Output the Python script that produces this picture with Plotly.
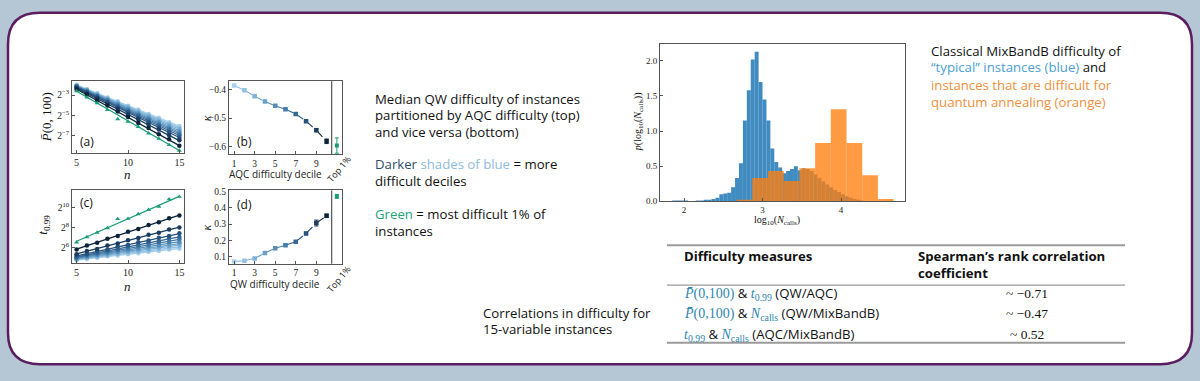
import plotly.graph_objects as go

W, H = 1200, 381
def fx(p): return p / W
def fy(p): return 1 - p / H

# ---------------- data ----------------
n_vals = [5, 6, 7, 8, 9, 10, 11, 12, 13, 14, 15]

# panel (a): log2 of median P(0,100) per AQC decile (1..10) + top 1% (last)
a_fit_start = [-2.00, -2.03, -2.06, -2.09, -2.12, -2.15, -2.19, -2.24, -2.32, -2.42, -2.62]
a_fit_end = [-6.05, -6.20, -6.35, -6.50, -6.65, -6.80, -6.97, -7.17, -7.47, -7.97, -8.45]
a_points = [
    [-1.98, -2.43, -2.80, -3.23, -3.61, -4.05, -4.41, -4.86, -5.22, -5.67, -6.03],
    [-2.04, -2.44, -2.88, -3.27, -3.71, -4.09, -4.55, -4.93, -5.38, -5.76, -6.22],
    [-2.05, -2.51, -2.90, -3.36, -3.75, -4.22, -4.61, -5.08, -5.47, -5.94, -6.33],
    [-2.10, -2.52, -2.99, -3.40, -3.87, -4.28, -4.75, -5.16, -5.64, -6.04, -6.52],
    [-2.11, -2.59, -3.01, -3.49, -3.91, -4.40, -4.82, -5.31, -5.72, -6.22, -6.63],
    [-2.16, -2.60, -3.10, -3.52, -4.03, -4.45, -4.96, -5.38, -5.89, -6.31, -6.82],
    [-2.18, -2.69, -3.12, -3.64, -4.08, -4.60, -5.03, -5.55, -5.99, -6.50, -6.95],
    [-2.25, -2.71, -3.24, -3.69, -4.22, -4.68, -5.21, -5.66, -6.19, -6.65, -7.19],
    [-2.30, -2.85, -3.31, -3.86, -4.33, -4.90, -5.37, -5.92, -6.39, -6.95, -7.45],
    [-2.44, -2.94, -3.53, -4.03, -4.62, -5.15, -5.73, -6.23, -6.84, -7.35, -7.99],
    [-2.60, -3.22, -3.78, -4.45, -5.35, -5.60, -6.12, -6.75, -7.28, -7.90, -8.45],
]

# panel (c): log2 of t_0.99 per QW decile (1..10) + top 1% (last)
c_fit_start = [4.70, 4.75, 4.80, 4.85, 4.90, 4.95, 5.02, 5.12, 5.32, 5.80, 6.60]
c_fit_end = [5.87, 6.03, 6.20, 6.36, 6.56, 6.78, 7.05, 7.37, 8.03, 9.24, 11.13]
c_points = [
    [4.66, 4.84, 4.92, 5.08, 5.15, 5.30, 5.38, 5.54, 5.61, 5.77, 5.85],
    [4.78, 4.86, 5.03, 5.11, 5.29, 5.36, 5.55, 5.62, 5.80, 5.88, 6.05],
    [4.76, 4.97, 5.05, 5.25, 5.33, 5.53, 5.61, 5.81, 5.89, 6.09, 6.17],
    [4.89, 4.98, 5.18, 5.27, 5.48, 5.58, 5.79, 5.88, 6.09, 6.18, 6.39],
    [4.86, 5.10, 5.20, 5.43, 5.53, 5.76, 5.87, 6.09, 6.20, 6.42, 6.53],
    [4.99, 5.10, 5.35, 5.47, 5.71, 5.84, 6.08, 6.20, 6.44, 6.57, 6.81],
    [4.98, 5.26, 5.40, 5.66, 5.80, 6.07, 6.21, 6.47, 6.61, 6.88, 7.02],
    [5.16, 5.32, 5.61, 5.77, 6.06, 6.22, 6.51, 6.67, 6.96, 7.12, 7.40],
    [5.28, 5.62, 5.83, 6.16, 6.37, 6.71, 6.92, 7.25, 7.46, 7.79, 8.00],
    [5.76, 6.17, 6.45, 6.86, 7.14, 7.55, 7.83, 8.24, 8.52, 8.93, 9.21],
    [6.50, 7.02, 7.48, 7.93, 8.85, 8.88, 9.35, 9.78, 10.10, 10.85, 11.10],
]

# panel (b): kappa vs AQC difficulty decile
deciles = [1, 2, 3, 4, 5, 6, 7, 8, 9, 10]
b_kappa = [-0.385, -0.402, -0.423, -0.442, -0.457, -0.469, -0.486, -0.511, -0.543, -0.582]
b_err = [0.003, 0.003, 0.003, 0.003, 0.003, 0.003, 0.004, 0.004, 0.005, 0.008]
b_top = [-0.597]
b_top_err = [0.027]

# panel (d): kappa vs QW difficulty decile
d_kappa = [0.072, 0.076, 0.090, 0.124, 0.153, 0.171, 0.193, 0.243, 0.307, 0.351]
d_err = [0.003, 0.003, 0.004, 0.004, 0.004, 0.004, 0.005, 0.008, 0.018, 0.010]
d_top = [0.470]
d_top_err = [0.012]
top_pos = [11]

# histogram of log10(N_calls)
blue_centers = [1.875, 1.925, 1.975, 2.025, 2.075, 2.125, 2.175, 2.225, 2.275, 2.325,
                2.375, 2.425, 2.475, 2.525, 2.575, 2.625, 2.675, 2.725, 2.775, 2.825,
                2.875, 2.925, 2.975, 3.025, 3.075, 3.125, 3.175, 3.225, 3.275, 3.325,
                3.375, 3.425, 3.475, 3.525, 3.575, 3.625, 3.675, 3.725, 3.775, 3.825,
                3.875, 3.925, 3.975, 4.025, 4.075, 4.125, 4.175, 4.225, 4.275]
blue_heights = [0.01, 0.01, 0.01, 0.01, 0.00, 0.00, 0.01, 0.01, 0.02, 0.02,
                0.03, 0.05, 0.10, 0.11, 0.12, 0.20, 0.33, 0.54, 1.15, 1.58,
                2.02, 2.13, 1.70, 1.45, 1.15, 0.75, 0.56, 0.48, 0.40, 0.43,
                0.46, 0.50, 0.44, 0.47, 0.46, 0.43, 0.38, 0.33, 0.28, 0.24,
                0.20, 0.16, 0.13, 0.10, 0.07, 0.05, 0.03, 0.02, 0.01]
orange_edges = [2.67, 2.87, 3.07, 3.27, 3.47, 3.67, 3.87, 4.07, 4.27, 4.47, 4.67]
orange_heights = [0.02, 0.33, 0.43, 0.29, 0.47, 0.83, 1.31, 0.83, 0.37, 0.03]

decile_colors = ['#a9d1ec', '#94c2e2', '#7fb2d6', '#6aa1c9', '#578fba',
                 '#457caa', '#356896', '#27537e', '#193c5f', '#0c233c']
green = '#1b9e77'

SERIF = 'Liberation Serif'
SANS = 'Open Sans'
TXT = 13.2

fig = go.Figure()

# ---------------- panels (a) and (c) ----------------
for xa, ya, fs, fe, pts in [('x', 'y', a_fit_start, a_fit_end, a_points),
                            ('x3', 'y3', c_fit_start, c_fit_end, c_points)]:
    for i in range(11):
        col = decile_colors[i] if i < 10 else green
        sym = 'circle' if i < 10 else 'triangle-up'
        fig.add_trace(go.Scatter(x=[n_vals[0], n_vals[-1]], y=[fs[i], fe[i]], mode='lines',
                                 line=dict(color=col, width=1.3), xaxis=xa, yaxis=ya,
                                 showlegend=False, hoverinfo='skip'))
        fig.add_trace(go.Scatter(x=n_vals, y=pts[i], mode='markers',
                                 marker=dict(color=col, size=4.5, symbol=sym), xaxis=xa, yaxis=ya,
                                 showlegend=False))

# ---------------- panels (b) and (d) ----------------
for xa, ya, kap, err, top, terr in [('x2', 'y2', b_kappa, b_err, b_top, b_top_err),
                                    ('x4', 'y4', d_kappa, d_err, d_top, d_top_err)]:
    for i in range(len(deciles) - 1):
        fig.add_trace(go.Scatter(x=deciles[i:i + 2], y=kap[i:i + 2], mode='lines',
                                 line=dict(color=decile_colors[i + 1], width=1.1, dash='dash'),
                                 xaxis=xa, yaxis=ya, showlegend=False, hoverinfo='skip'))
    for i in range(len(deciles)):
        fig.add_trace(go.Scatter(x=[deciles[i]], y=[kap[i]], mode='markers',
                                 marker=dict(color=decile_colors[i], size=4.5, symbol='square'),
                                 error_y=dict(type='data', array=[err[i]], color=decile_colors[i],
                                              thickness=1, width=2),
                                 xaxis=xa, yaxis=ya, showlegend=False))
    fig.add_trace(go.Scatter(x=top_pos, y=top, mode='markers',
                             marker=dict(color=green, size=4, symbol='square'),
                             error_y=dict(type='data', array=terr, color=green, thickness=1, width=2),
                             xaxis=xa, yaxis=ya, showlegend=False))

# ---------------- histogram ----------------
fig.add_trace(go.Bar(x=blue_centers, y=blue_heights, width=[0.05] * len(blue_centers),
                     marker=dict(color='rgba(31,119,180,0.85)', line=dict(width=0)),
                     xaxis='x5', yaxis='y5', showlegend=False))
o_centers = [(orange_edges[i] + orange_edges[i + 1]) / 2 for i in range(len(orange_heights))]
o_widths = [orange_edges[i + 1] - orange_edges[i] for i in range(len(orange_heights))]
fig.add_trace(go.Bar(x=o_centers, y=orange_heights, width=o_widths,
                     marker=dict(color='rgba(255,127,14,0.78)', line=dict(width=0)),
                     xaxis='x5', yaxis='y5', showlegend=False))

# ---------------- axes ----------------
def dom_x(a, b): return [fx(a), fx(b)]
def dom_y(top, bot): return [fy(bot), fy(top)]

tickfont = dict(family=SERIF, size=9.5, color='#222')
common = dict(showline=True, linecolor='#555', linewidth=1, mirror=True, ticks='inside',
              ticklen=3, tickcolor='#555', showgrid=False, zeroline=False, tickfont=tickfont)

fig.update_layout(
    xaxis=dict(domain=dom_x(72, 184), range=[4.55, 15.45], tickvals=[5, 10, 15], anchor='y', **common),
    yaxis=dict(domain=dom_y(79, 153), range=[-8.73, -1.62], tickvals=[-3, -5, -7],
               ticktext=['2<sup>−3</sup>', '2<sup>−5</sup>', '2<sup>−7</sup>'], anchor='x', **common),
    xaxis2=dict(domain=dom_x(229, 342), range=[0.5, 11.5], tickvals=[1, 3, 5, 7, 9], anchor='y2', **common),
    yaxis2=dict(domain=dom_y(79, 154), range=[-0.628, -0.37], tickvals=[-0.4, -0.5, -0.6],
                ticktext=['−0.4', '−0.5', '−0.6'], anchor='x2', **common),
    xaxis3=dict(domain=dom_x(72, 184), range=[4.55, 15.45], tickvals=[5, 10, 15], anchor='y3', **common),
    yaxis3=dict(domain=dom_y(191, 265), range=[4.43, 11.73], tickvals=[6, 8, 10],
                ticktext=['2<sup>6</sup>', '2<sup>8</sup>', '2<sup>10</sup>'], anchor='x3', **common),
    xaxis4=dict(domain=dom_x(229, 342), range=[0.5, 11.5], tickvals=[1, 3, 5, 7, 9], anchor='y4', **common),
    yaxis4=dict(domain=dom_y(191, 266), range=[0.058, 0.506], tickvals=[0.1, 0.2, 0.3, 0.4, 0.5],
                ticktext=['0.1', '0.2', '0.3', '0.4', '0.5'], anchor='x4', **common),
    xaxis5=dict(domain=dom_x(660, 905), range=[1.694, 4.815], tickvals=[2, 3, 4], anchor='y5', **common),
    yaxis5=dict(domain=dom_y(41, 202), range=[0, 2.24], tickvals=[0, 0.5, 1.0, 1.5, 2.0],
                ticktext=['0.0', '0.5', '1.0', '1.5', '2.0'], anchor='x5', **common),
)
for ax in ['xaxis5', 'yaxis5']:
    fig.layout[ax].tickfont = dict(family=SERIF, size=9, color='#222')
for ax in ['xaxis', 'xaxis3']:
    fig.layout[ax].tickfont = dict(family=SERIF, size=10, color='#222')

# ---------------- shapes ----------------
x0, x1, y0, y1, r = 8, 1192, 9, 369, 32
def P(x, y): return f'{fx(x):.5f},{fy(y):.5f}'
path = (f'M {P(x0 + r, y0)} L {P(x1 - r, y0)} Q {P(x1, y0)} {P(x1, y0 + r)} '
        f'L {P(x1, y1 - r)} Q {P(x1, y1)} {P(x1 - r, y1)} L {P(x0 + r, y1)} '
        f'Q {P(x0, y1)} {P(x0, y1 - r)} L {P(x0, y0 + r)} Q {P(x0, y0)} {P(x0 + r, y0)} Z')
shapes = [dict(type='path', path=path, xref='paper', yref='paper', fillcolor='white',
               line=dict(color='#5b1d60', width=2.5), layer='below')]
for xa, ya in [('x2', 'y2 domain'), ('x4', 'y4 domain')]:
    shapes.append(dict(type='line', xref=xa, yref=ya, x0=10.5, x1=10.5, y0=0, y1=1,
                       line=dict(color='#333', width=1)))
for yy, w in [(247, 2), (288, 1.2), (347, 2)]:
    shapes.append(dict(type='line', xref='paper', yref='paper', x0=fx(667), x1=fx(1125),
                       y0=fy(yy), y1=fy(yy), line=dict(color='#9a9a9a', width=w)))
fig.update_layout(shapes=shapes)

# ---------------- annotations ----------------
ann = []
def txt(x, y, text, size=TXT, color='#111', family=SANS, xanchor='left', angle=0, yanchor='middle'):
    ann.append(dict(x=fx(x), y=fy(y), xref='paper', yref='paper', text=text, showarrow=False,
                    xanchor=xanchor, yanchor=yanchor, align='left', textangle=angle,
                    font=dict(family=family, size=size, color=color)))

# panel labels
txt(78, 141, '(a)', 12, '#111', SANS)
txt(235, 141, '(b)', 12, '#111', SANS)
txt(78, 203, '(c)', 12, '#111', SANS)
txt(235, 205, '(d)', 12, '#111', SANS)
# axis titles
txt(46, 116, '<i>P̄</i>(0, 100)', 13, '#111', SERIF, 'center', -90)
txt(127, 175, '<i>n</i>', 13, '#111', SERIF, 'center')
txt(44, 226, '<i>t</i><sub>0.99</sub>', 13, '#111', SERIF, 'center', -90)
txt(127, 289, '<i>n</i>', 13, '#111', SERIF, 'center')
txt(207, 117, '<i>κ</i>', 12, '#111', SERIF, 'center', -90)
txt(207, 229, '<i>κ</i>', 12, '#111', SERIF, 'center', -90)
txt(275, 174, 'AQC difficulty decile', 10, '#222', SANS, 'center')
txt(275, 287, 'QW difficulty decile', 10, '#222', SANS, 'center')
txt(339, 168, 'Top 1%', 9, '#222', SANS, 'center', -50)
txt(339, 281, 'Top 1%', 9, '#222', SANS, 'center', -50)
txt(638, 121, '<i>p</i>(log<sub>10</sub>(<i>N</i><sub>calls</sub>))', 10, '#111', SERIF, 'center', -90)
txt(777, 222, 'log<sub>10</sub>(<i>N</i><sub>calls</sub>)', 10, '#111', SERIF, 'center')

# explanatory texts
txt(373, 97, 'Median QW difficulty of instances')
txt(373, 114, 'partitioned by AQC difficulty (top)')
txt(373, 131, 'and vice versa (bottom)')
txt(373, 164, "<span style='color:#2f4e68'>Darker</span> <span style='color:#8fbbdc'>shades of blue</span> = more")
txt(373, 181, 'difficult deciles')
txt(373, 215, "<span style='color:#22a27a'>Green</span> = most difficult 1% of")
txt(373, 232, 'instances')

txt(929, 48, 'Classical MixBandB difficulty of')
txt(929, 65, "<span style='color:#4a9fd4'>“typical” instances (blue)</span> and")
txt(929, 83, 'instances that are difficult for', TXT, '#f0903c')
txt(929, 100, 'quantum annealing (orange)', TXT, '#f0903c')

txt(481, 316, 'Correlations in difficulty for')
txt(481, 333, '15-variable instances')

# table
TEAL = '#2f86b0'
txt(682, 258, '<b>Difficulty measures</b>')
txt(916, 258, '<b>Spearman’s rank correlation</b>')
txt(916, 276, '<b>coefficient</b>')
Pm = f"<span style='font-family:{SERIF};font-size:14px;color:{TEAL}'><i>P̄</i>(0,100)</span>"
Tm = f"<span style='font-family:{SERIF};font-size:14px;color:{TEAL}'><i>t</i><sub>0.99</sub></span>"
Nm = f"<span style='font-family:{SERIF};font-size:14px;color:{TEAL}'><i>N</i><sub>calls</sub></span>"
txt(682, 297, f'{Pm} &amp; {Tm} (QW/AQC)')
txt(682, 317, f'{Pm} &amp; {Nm} (QW/MixBandB)')
txt(682, 338, f'{Tm} &amp; {Nm} (AQC/MixBandB)')
txt(1027, 297, '~ −0.71', 13.5, '#111', SERIF, 'center')
txt(1027, 317, '~ −0.47', 13.5, '#111', SERIF, 'center')
txt(1027, 338, '~ 0.52', 13.5, '#111', SERIF, 'center')

fig.update_layout(annotations=ann, width=W, height=H, margin=dict(l=0, r=0, t=0, b=0),
                  paper_bgcolor='#b5c7d5', plot_bgcolor='white', barmode='overlay',
                  showlegend=False)

fig.write_html('out.html', config={'displayModeBar': False},
               post_script="document.body.style.margin='0';document.body.style.overflow='hidden';")
